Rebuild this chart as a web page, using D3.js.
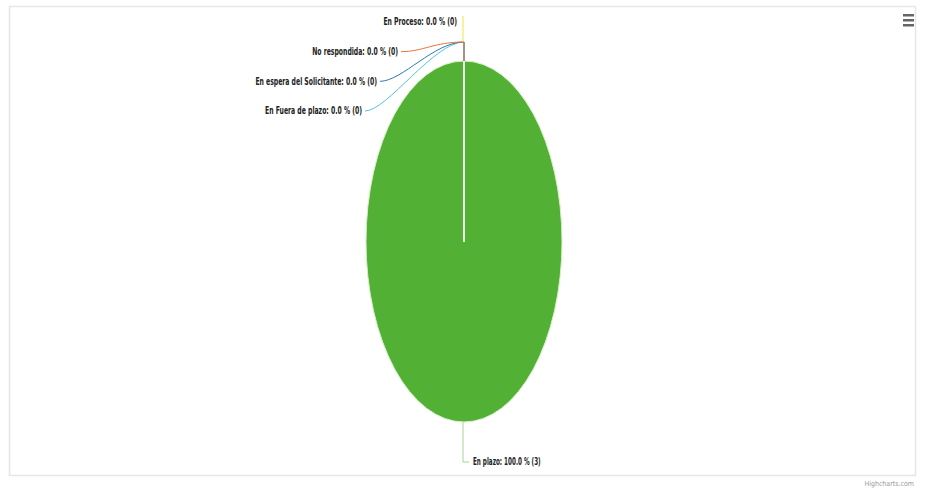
<!DOCTYPE html>
<html>
<head>
<meta charset="utf-8">
<script src="https://cdn.jsdelivr.net/npm/d3@7"></script>
<style>
  body { margin: 0; background: #fff; }
  text { font-family: "DejaVu Sans Condensed", "Liberation Sans Narrow", sans-serif; }
</style>
</head>
<body>
<div id="chart"></div>
<script>
const w = 925, h = 501;

// data
const categories = ["En plazo", "En Fuera de plazo", "En espera del Solicitante", "No respondida", "En Proceso"];
const values = [3, 0, 0, 0, 0];
const colors = ["#52b034", "#5bc0de", "#2b7bb0", "#e8743b", "#f4e04d"];
// order the zero labels are stacked in, top to bottom
const zeroOrder = ["En Proceso", "No respondida", "En espera del Solicitante", "En Fuera de plazo"];

const cx = 464, cy = 241.5, rx = 98, ry = 180.5;
const squeeze = 0.68; // labels look horizontally squeezed

const svg = d3.select("#chart").append("svg")
	.attr("width", w).attr("height", h)
	.attr("viewBox", "0 0 " + w + " " + h);

// frame
svg.append("rect").attr("x", 9.5).attr("y", 6.5).attr("width", 906).attr("height", 469)
	.style("fill", "none").style("stroke", "#e6e6e6").style("stroke-width", 1.5);

const total = d3.sum(values);
const data = categories.map((c, i) => ({ name: c, value: values[i], color: colors[i], count: values[i] }));

const pie = d3.pie().sort(null).value(d => d.value);
const arcs = pie(data);
const arc = d3.arc().innerRadius(0).outerRadius(ry);

// pie is squeezed horizontally into an ellipse
const g = svg.append("g").attr("transform", "translate(" + cx + "," + cy + ") scale(" + (rx / ry) + ",1)");
g.selectAll(null).data(arcs).enter().append("path")
	.attr("d", arc)
	.style("fill", d => d.data.color)
	.style("stroke", "#d8f0c8").style("stroke-width", 1)
	.attr("vector-effect", "non-scaling-stroke");

// slice border from centre to the start angle
svg.append("line").attr("x1", cx).attr("y1", cy).attr("x2", cx).attr("y2", cy - ry)
	.style("stroke", "#fff").style("stroke-width", 1.2);

const fmt = d => d.data.name + ": " + (d.value / total * 100).toFixed(1) + " % (" + d.data.count + ")";

// label positions for the zero slices (stacked to the upper left)
const ySc = d3.scalePoint().domain(zeroOrder).range([22, 111]);
const xEnd = { "En Proceso": 457, "No respondida": 398, "En espera del Solicitante": 377, "En Fuera de plazo": 362 };
const joinY = cy - ry - 19;

const labels = svg.append("g");
arcs.forEach(d => {
	if (d.value === 0) {
		const ly = ySc(d.data.name);
		const lx = xEnd[d.data.name];
		let path;
		if (d.data.name === "En Proceso") {
			path = "M" + (cx - 1) + "," + (ly - 6) + "L" + (cx - 1) + "," + joinY;
		} else {
			path = "M" + (lx + 3) + "," + ly + "C" + (lx + 25) + "," + ly + " " + (cx - 30) + "," + joinY + " " + cx + "," + joinY + "L" + cx + "," + (cy - ry);
		}
		labels.append("path").attr("d", path)
			.style("fill", "none").style("stroke", d.data.color).style("stroke-width", 1);
		labels.append("text").attr("x", lx).attr("y", ly).attr("dy", "0.35em")
			.attr("text-anchor", "end")
			.attr("transform", "translate(" + lx + ",0) scale(" + squeeze + ",1) translate(" + (-lx) + ",0)")
			.style("font-size", "10px").style("font-weight", "bold").style("fill", "#222")
			.text(fmt(d));
	} else {
		const ang = (d.startAngle + d.endAngle) / 2;
		const px = cx + Math.sin(ang) * rx, py = cy - Math.cos(ang) * ry;
		const ly = 462;
		labels.append("path")
			.attr("d", "M" + (px - 1) + "," + py + "L" + (px - 1) + "," + ly + "L" + (px + 5) + "," + ly)
			.style("fill", "none").style("stroke", "#a8d696").style("stroke-width", 1);
		const lx = px + 9;
		labels.append("text").attr("x", lx).attr("y", ly).attr("dy", "0.35em")
			.attr("transform", "translate(" + lx + ",0) scale(0.63,1) translate(" + (-lx) + ",0)")
			.style("font-size", "10px").style("font-weight", "bold").style("fill", "#222")
			.text(fmt(d));
	}
});

// export menu icon
const menu = svg.append("g").attr("transform", "translate(903,14)");
menu.selectAll(null).data([0, 1, 2]).enter().append("rect")
	.attr("x", 0).attr("y", i => i * 5).attr("width", 11).attr("height", 2.5)
	.style("fill", "#666");

// credits
svg.append("text").attr("x", 914).attr("y", 486).attr("text-anchor", "end")
	.style("font-size", "7px").style("fill", "#999").text("Highcharts.com");
</script>
</body>
</html>
